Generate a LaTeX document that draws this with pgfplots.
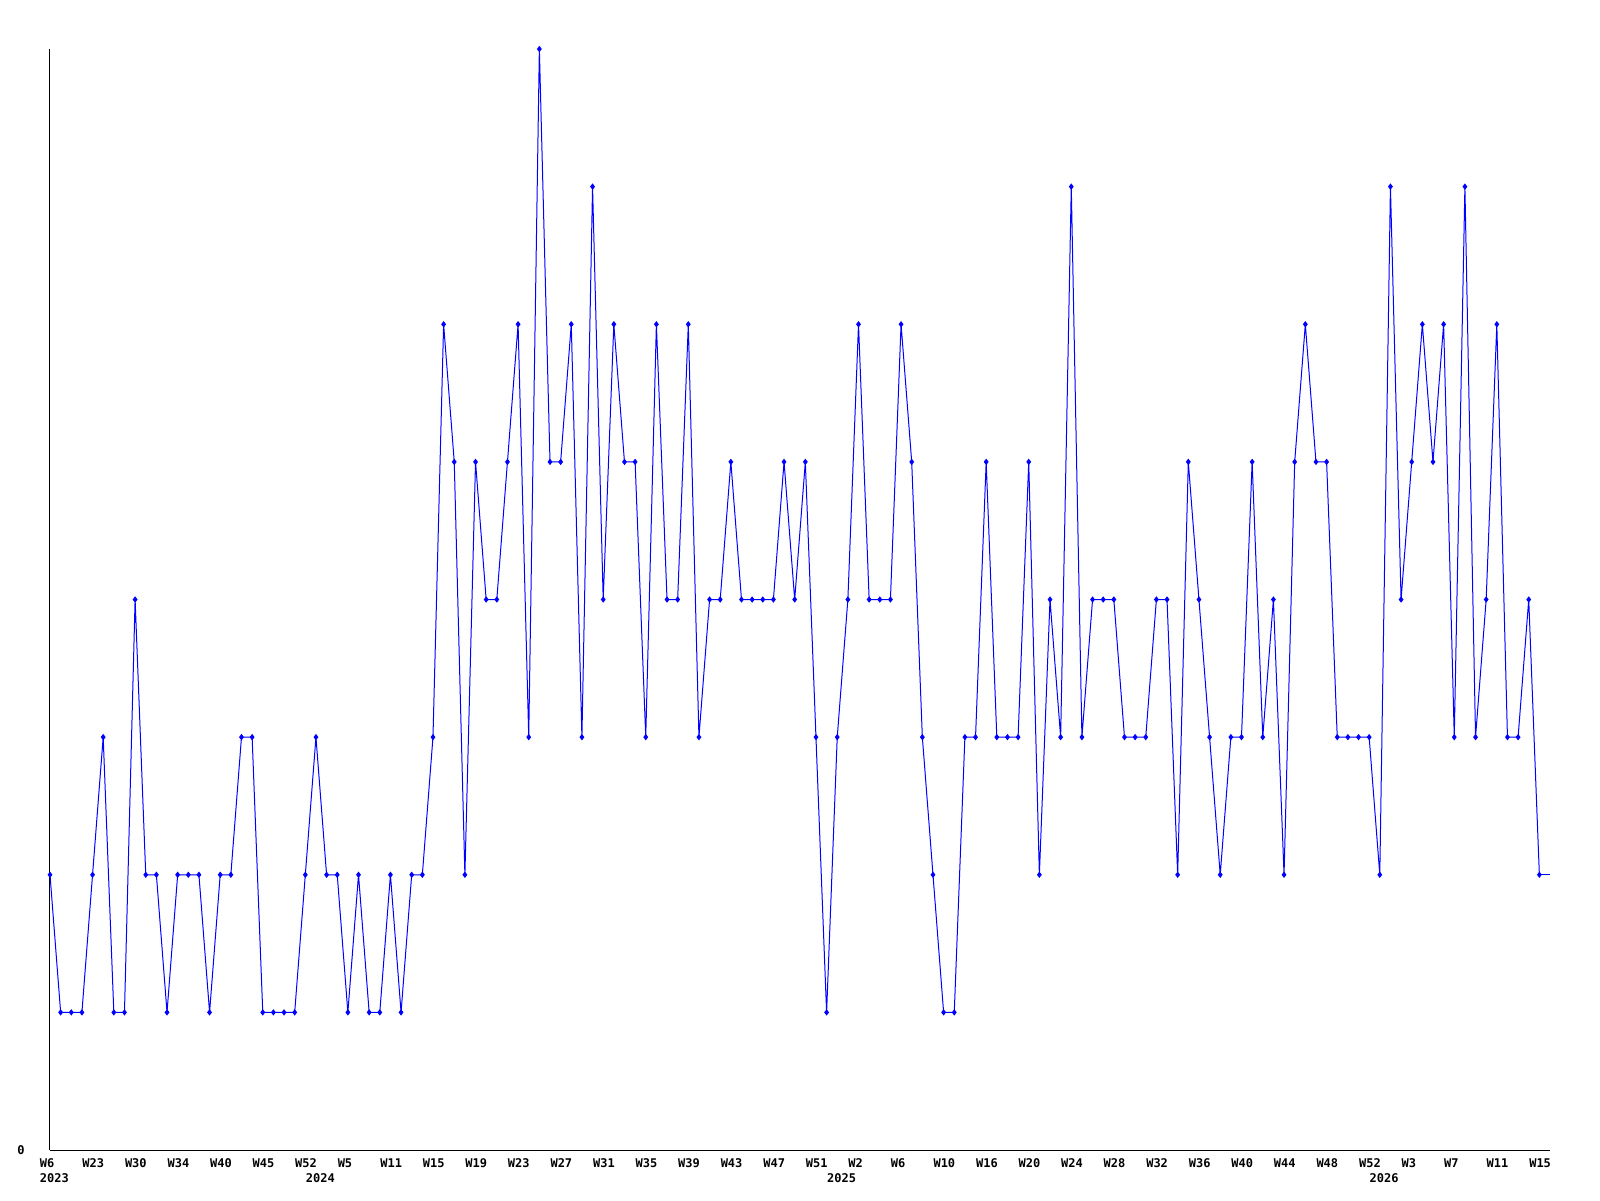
\documentclass[border=0pt]{standalone}
\usepackage{pgfplots}
\pgfplotsset{compat=1.18}
\usepackage{fontspec}
\newfontfamily\lf{DejaVu Sans Mono}
\begin{document}
\begin{tikzpicture}
\useasboundingbox (0,0) rectangle (800pt,600pt);
\begin{axis}[
  at={(25pt,25pt)}, anchor=south west,
  width=750pt, height=550.5pt, scale only axis,
  xmin=0, xmax=141, ymin=0, ymax=8,
  clip=false,
  axis lines*=left,
  axis line style={black, line width=0.5pt},
  major tick length=0pt,
  /pgf/number format/assume math mode=true,
  ticklabel style={font=\lf\bfseries\fontsize{6}{7}\selectfont},
  ytick={0}, yticklabels={0},
  yticklabel style={anchor=east, inner sep=0pt, xshift=-12.5pt},
  xtick={0,4,...,140},
  xticklabels={W6,W23,W30,W34,W40,W45,W52,W5,W11,W15,W19,W23,W27,W31,W35,W39,W43,W47,W51,W2,W6,W10,W16,W20,W24,W28,W32,W36,W40,W44,W48,W52,W3,W7,W11,W15},
  xticklabel style={anchor=north west, inner sep=0pt, xshift=-5.25pt, yshift=-4pt},
  extra x ticks={0,25,74,125},
  extra x tick labels={2023,2024,2025,2026},
  extra x tick style={xticklabel style={yshift=-7.5pt}},
]
\addplot[blue, line width=0.5pt, mark=diamond*, mark size=1.2pt] coordinates {
(0,2)(1,1)(2,1)(3,1)(4,2)(5,3)(6,1)(7,1)(8,4)(9,2)(10,2)(11,1)(12,2)(13,2)(14,2)(15,1)(16,2)(17,2)(18,3)(19,3)
(20,1)(21,1)(22,1)(23,1)(24,2)(25,3)(26,2)(27,2)(28,1)(29,2)(30,1)(31,1)(32,2)(33,1)(34,2)(35,2)(36,3)(37,6)(38,5)(39,2)
(40,5)(41,4)(42,4)(43,5)(44,6)(45,3)(46,8)(47,5)(48,5)(49,6)(50,3)(51,7)(52,4)(53,6)(54,5)(55,5)(56,3)(57,6)(58,4)(59,4)
(60,6)(61,3)(62,4)(63,4)(64,5)(65,4)(66,4)(67,4)(68,4)(69,5)(70,4)(71,5)(72,3)(73,1)(74,3)(75,4)(76,6)(77,4)(78,4)(79,4)
(80,6)(81,5)(82,3)(83,2)(84,1)(85,1)(86,3)(87,3)(88,5)(89,3)(90,3)(91,3)(92,5)(93,2)(94,4)(95,3)(96,7)(97,3)(98,4)(99,4)
(100,4)(101,3)(102,3)(103,3)(104,4)(105,4)(106,2)(107,5)(108,4)(109,3)(110,2)(111,3)(112,3)(113,5)(114,3)(115,4)(116,2)(117,5)(118,6)(119,5)
(120,5)(121,3)(122,3)(123,3)(124,3)(125,2)(126,7)(127,4)(128,5)(129,6)(130,5)(131,6)(132,3)(133,7)(134,3)(135,4)(136,6)(137,3)(138,3)(139,4)
(140,2)
};
\addplot[blue, line width=0.5pt, mark=none] coordinates {(140,2)(141,2)};
\end{axis}
\end{tikzpicture}
\end{document}
